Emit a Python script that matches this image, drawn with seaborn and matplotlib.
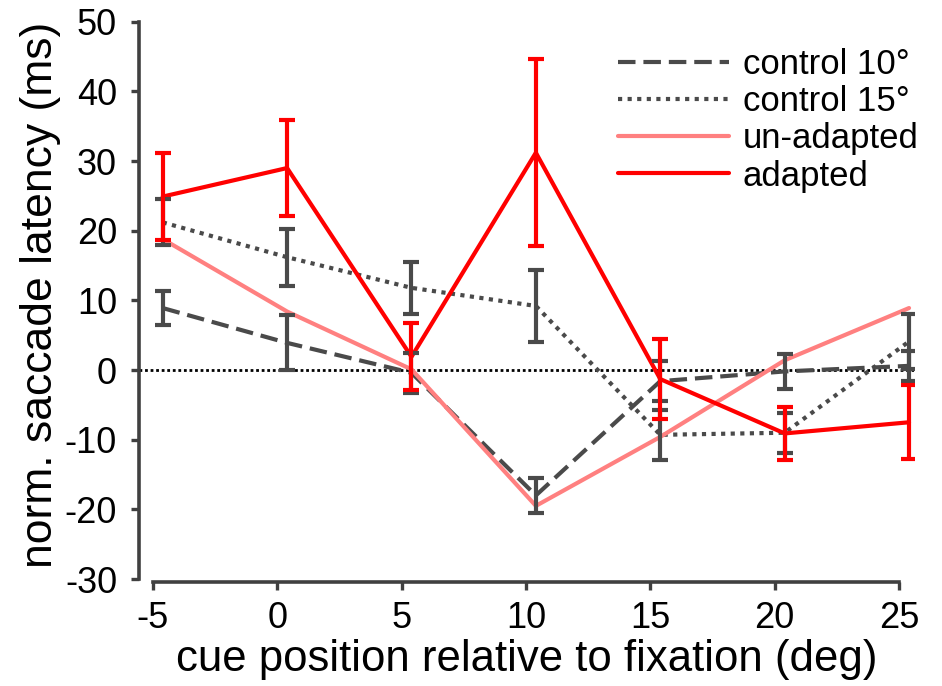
import numpy as np
import pandas as pd
import matplotlib
matplotlib.use("Agg")
import matplotlib.pyplot as plt
import seaborn as sns

# values
cue = [-5, 0, 5, 10, 15, 20, 25]
control10 = [8.9, 3.9, -0.4, -18.0, -1.6, -0.2, 0.6]
control10_err = [2.45, 3.95, 2.85, 2.55, 2.9, 2.5, 2.2]
control15 = [21.2, 16.2, 11.8, 9.2, -9.3, -9.0, 4.1]
control15_err = [3.3, 4.1, 3.75, 5.15, 3.6, 2.9, 4.0]
unadapted = [18.8, 8.4, 0.1, -19.5, -9.6, 1.4, 8.9]
adapted = [24.9, 29.0, 1.9, 31.2, -1.3, -9.1, -7.5]
adapted_err = [6.25, 6.85, 4.8, 13.4, 5.8, 3.8, 5.3]
names = ["control 10°", "control 15°", "un-adapted", "adapted"]

sns.set_style("ticks")
plt.rcParams['font.family'] = ['Liberation Sans', 'DejaVu Sans']
plt.rcParams['axes.unicode_minus'] = False
plt.rcParams['text.color'] = 'black'
plt.rcParams['axes.labelcolor'] = 'black'
plt.rcParams['xtick.color'] = 'black'
plt.rcParams['ytick.color'] = 'black'

shift = 0.4  # points sit a bit right of the ticks in the original
gray = "#4a4a4a"
cols = {"control 10°": gray, "control 15°": gray, "un-adapted": "#ff8080", "adapted": "#ff0000"}
dash = {"control 10°": (4.2, 1.9), "control 15°": (1.0, 1.3), "un-adapted": "", "adapted": ""}

rows = []
for nm, vals in zip(names, [control10, control15, unadapted, adapted]):
    for c, v in zip(cue, vals):
        rows.append({"cue": c + shift, "lat": v, "cond": nm})
df = pd.DataFrame(rows)

fig = plt.figure(figsize=(9.42, 6.86), dpi=100)
ax = fig.add_axes([0.1479, 0.1516, 0.8224, 0.837])

ax.axhline(0, color="black", lw=2.0, ls=(0, (1, 1)), zorder=1)

sns.lineplot(data=df, x="cue", y="lat", hue="cond", style="cond", palette=cols, dashes=dash,
             hue_order=names, style_order=names, lw=3.0, ax=ax, zorder=3)

xs = np.array(cue) + shift
for vals, err, c in [(control10, control10_err, gray), (control15, control15_err, gray), (adapted, adapted_err, "#ff0000")]:
    ax.errorbar(xs, vals, yerr=err, fmt="none", ecolor=c, elinewidth=3.0, capsize=5.5, capthick=3.0, zorder=4)

ax.set_xlim(-5.54, 25.6)
ax.set_ylim(-30.43, 52)
ax.set_xticks(cue)
ax.set_xticklabels([str(c) for c in cue])
ax.set_yticks(range(-30, 51, 10))
ax.spines['bottom'].set_bounds(-5, 25)
ax.spines['left'].set_bounds(-30, 50)
for s in ['top', 'right']:
    ax.spines[s].set_visible(False)
for s in ['bottom', 'left']:
    ax.spines[s].set_color("#404040")
    ax.spines[s].set_linewidth(2.6)
ax.tick_params(axis='both', which='major', length=6, width=2.4, color="#404040", labelcolor="black",
               labelsize=26, direction='out')
ax.tick_params(axis='x', pad=8)
ax.tick_params(axis='y', pad=10)
ax.set_xlabel("cue position relative to fixation (deg)", fontsize=31.5, labelpad=2, color="black")
ax.set_ylabel("norm. saccade latency (ms)", fontsize=32, labelpad=3, color="black")

h, l = ax.get_legend_handles_labels()
leg = ax.legend(h, l, loc="upper left", bbox_to_anchor=(0.656, 0.93), bbox_transform=fig.transFigure,
                frameon=False, fontsize=25, handlelength=3.2, handletextpad=0.4, labelspacing=0.12,
                borderpad=0, borderaxespad=0)
for t in leg.get_texts():
    t.set_color("black")

fig.savefig("out.png", dpi=100)
